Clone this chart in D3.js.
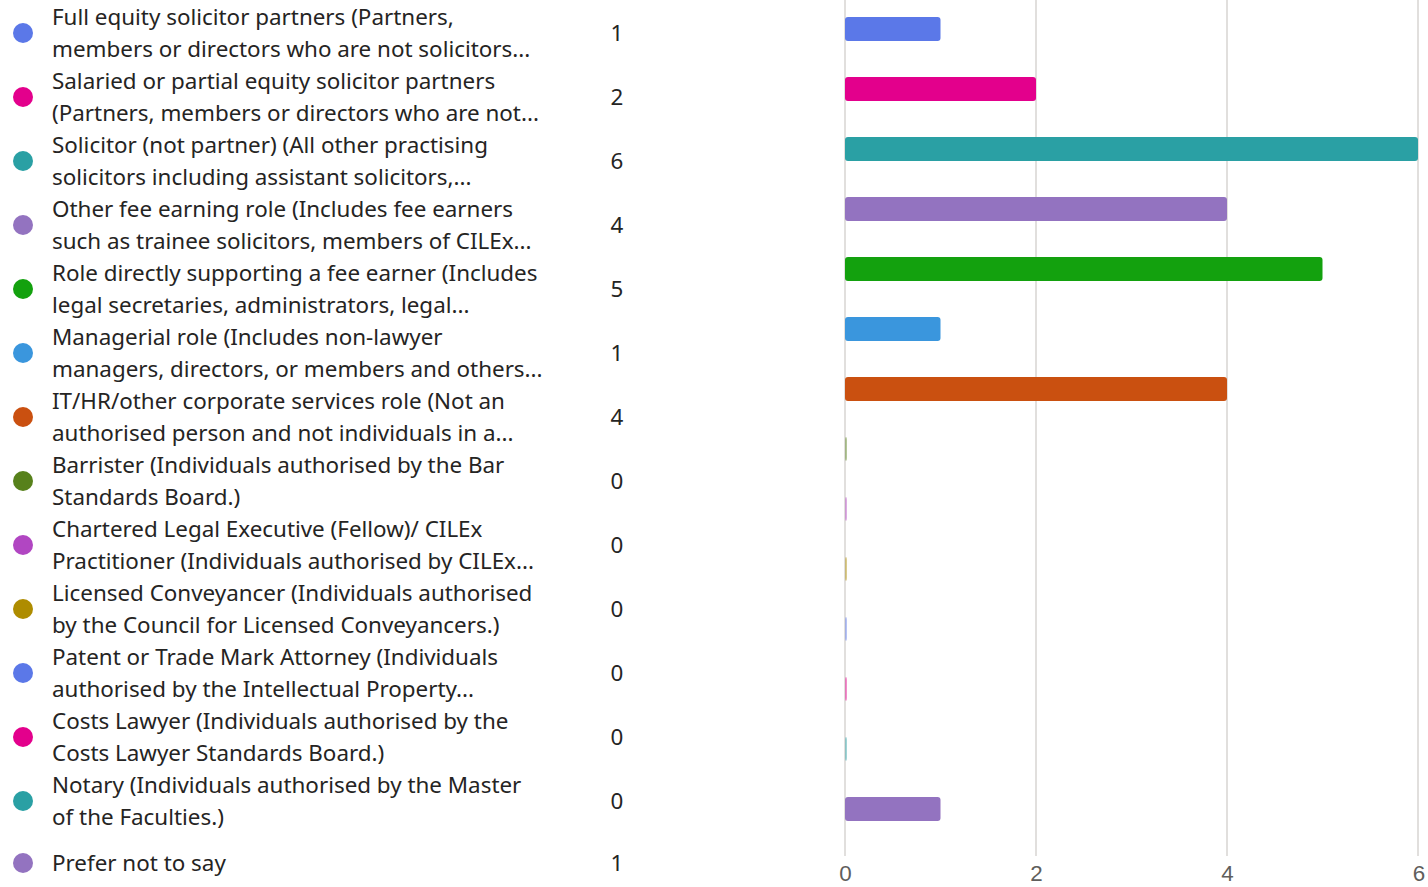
<!DOCTYPE html>
<html>
<head>
<meta charset="utf-8">
<script src="https://d3js.org/d3.v7.min.js"></script>
<style>
  body { margin: 0; background: #fff; }
  svg { display: block; font-family: 'Noto Sans', sans-serif; }
  .lbl { font-size: 22.4px; fill: #252423; }
  .cnt { font-size: 22.4px; fill: #252423; text-anchor: middle; }
  .tick text { font-size: 22.4px; fill: #605e5c; }
</style>
</head>
<body>
<script>
// categories, two display lines each (as truncated in the source)
var labels = [
  ["Full equity solicitor partners (Partners,", "members or directors who are not solicitors..."],
  ["Salaried or partial equity solicitor partners", "(Partners, members or directors who are not..."],
  ["Solicitor (not partner) (All other practising", "solicitors including assistant solicitors,..."],
  ["Other fee earning role (Includes fee earners", "such as trainee solicitors, members of CILEx..."],
  ["Role directly supporting a fee earner (Includes", "legal secretaries, administrators, legal..."],
  ["Managerial role (Includes non-lawyer", "managers, directors, or members and others..."],
  ["IT/HR/other corporate services role (Not an", "authorised person and not individuals in a..."],
  ["Barrister (Individuals authorised by the Bar", "Standards Board.)"],
  ["Chartered Legal Executive (Fellow)/ CILEx", "Practitioner (Individuals authorised by CILEx..."],
  ["Licensed Conveyancer (Individuals authorised", "by the Council for Licensed Conveyancers.)"],
  ["Patent or Trade Mark Attorney (Individuals", "authorised by the Intellectual Property..."],
  ["Costs Lawyer (Individuals authorised by the", "Costs Lawyer Standards Board.)"],
  ["Notary (Individuals authorised by the Master", "of the Faculties.)"],
  ["Prefer not to say"]
];
var counts = [1, 2, 6, 4, 5, 1, 4, 0, 0, 0, 0, 0, 0, 1];
var colors = ["#5b78e8", "#e3008c", "#2aa0a4", "#9373c0", "#13a10e", "#3a96dd", "#ca5010",
              "#57811b", "#b146c2", "#ae8c00", "#5b78e8", "#e3008c", "#2aa0a4", "#9373c0"];
var xTicks = [0, 2, 4, 6];

var W = 1428, H = 887;
var svg = d3.select("body").append("svg").attr("width", W).attr("height", H);

var idx = d3.range(labels.length);

// legend rows: 64px apart, last row a little tighter
var rowY = d3.scaleLinear().domain([0, labels.length - 2]).range([33, 801]);
function rowPos(i) { return i === labels.length - 1 ? 863 : rowY(i); }

var legend = svg.append("g");
var row = legend.selectAll("g.row").data(idx).enter().append("g")
  .attr("class", "row")
  .attr("transform", function(i) { return "translate(0," + rowPos(i) + ")"; });

row.append("circle").attr("cx", 23).attr("cy", 0).attr("r", 10)
  .style("fill", function(i) { return colors[i]; });

row.each(function(i) {
  var g = d3.select(this);
  var lines = labels[i];
  lines.forEach(function(t, k) {
    var off = lines.length === 1 ? 0 : (k === 0 ? -16 : 16);
    g.append("text").attr("class", "lbl")
      .attr("x", 52).attr("y", off).attr("dy", "0.35em").text(t);
  });
});

row.append("text").attr("class", "cnt")
  .attr("x", 617).attr("y", 0).attr("dy", "0.35em")
  .text(function(i) { return counts[i]; });

// bars
var x = d3.scaleLinear().domain([0, 6]).range([845, 1418]);
var y = d3.scaleBand().domain(idx).range([-1, 839]).paddingInner(0.6).paddingOuter(0.3);

svg.append("g").selectAll("line").data(xTicks).enter().append("line")
  .attr("x1", function(d) { return x(d); }).attr("x2", function(d) { return x(d); })
  .attr("y1", 0).attr("y2", 856)
  .style("stroke", "#e1dfdd").style("stroke-width", 2);

svg.append("g").selectAll("rect").data(idx).enter().append("rect")
  .attr("x", x(0))
  .attr("y", function(i) { return y(i); })
  .attr("height", y.bandwidth())
  .attr("width", function(i) { return Math.max(2, x(counts[i]) - x(0)); })
  .attr("rx", 3)
  .style("fill", function(i) { return colors[i]; })
  .style("opacity", function(i) { return counts[i] === 0 ? 0.45 : 1; });

var axis = svg.append("g").attr("transform", "translate(0,859)")
  .call(d3.axisBottom(x).tickValues(xTicks).tickFormat(d3.format("d")).tickSize(0).tickPadding(6));
axis.select(".domain").remove();
axis.select(".tick:last-of-type text").attr("text-anchor", "end").attr("dx", "0.3em");
</script>
</body>
</html>
